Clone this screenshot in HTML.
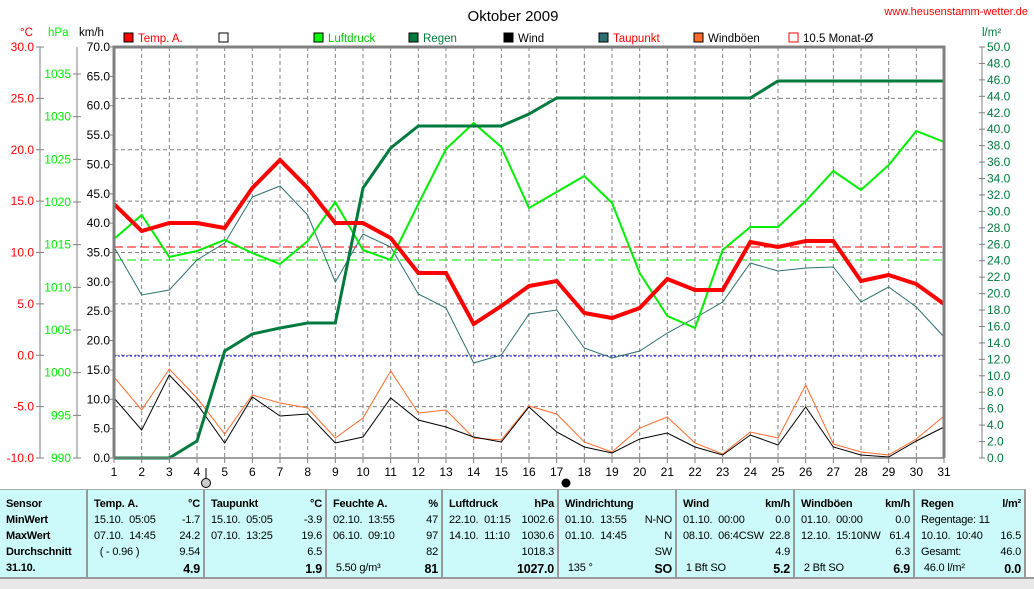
<!DOCTYPE html>
<html><head><meta charset="utf-8"><style>
body{margin:0;background:#fff;width:1034px;height:587px;overflow:hidden;font-family:"Liberation Sans",sans-serif}
svg{position:absolute;left:0;top:0}
#tbl{position:absolute;left:0;top:489px;width:1026px;height:87px;background:#ccfafa;border-top:1px solid #aaa}
.c{position:absolute;top:0;height:87px;border-right:2px solid #999;font-size:11px;letter-spacing:-0.2px}
.r{position:absolute;white-space:nowrap}
.b{font-weight:bold}
#strip{position:absolute;left:0;top:577px;width:1034px;height:10px;background:#e8e8e8;border-top:2px solid #999}
</style></head><body>
<svg id="s" width="1034" height="489" xmlns="http://www.w3.org/2000/svg" font-family="Liberation Sans, sans-serif" font-size="12"></svg>
<div id="tbl"></div>
<div id="strip"></div>
<script>
var s=document.getElementById('s'),h='';
function X(d){return 114+(d-1)*27.667}
for(var d=2;d<=31;d++)h+='<line x1="'+X(d)+'" y1="47" x2="'+X(d)+'" y2="458" stroke="#808080" stroke-dasharray="4,3"/>';
for(var t=25;t>-10;t-=5){var y=458-(t+10)*10.275;h+='<line x1="114" y1="'+y+'" x2="944" y2="'+y+'" stroke="#808080" stroke-dasharray="4,3"/>';}
h+='<line x1="114" y1="247" x2="944" y2="247" stroke="#f00" stroke-dasharray="9,4"/>';
h+='<line x1="114" y1="260" x2="944" y2="260" stroke="#00e000" stroke-dasharray="9,4"/>';
h+='<line x1="114" y1="356" x2="944" y2="356" stroke="#00f" stroke-dasharray="2,2"/>';
function pl(a,c,w){var p=[];for(var i=0;i<a.length;i++)if(a[i]!=null)p.push(X(i+1).toFixed(1)+','+a[i]);h+='<polyline points="'+p.join(' ')+'" fill="none" stroke="'+c+'" stroke-width="'+w+'"/>';}
pl([377,410,369,398,434,395,403,408,438,418,371,413,410,438,440,406,414,442,452,428,417,443,454,432,438,385,444,452,455,439,416],'#ff6a2a',1);
pl([398,430,375,404,443,397,416,414,443,437,398,420,427,437,442,407,432,447,453,439,433,447,455,435,445,407,447,455,457,441,427],'#000',1);
pl([247,295,290,260,243,197,186,215,282,234,247,294,308,363,355,314,310,348,358,351,333,318,302,263,271,268,267,302,287,307,337],'#2e7070',1);
pl([239,215,257,251,240,253,264,241,202,250,260,204,149,123,147,208,192,176,203,273,316,328,250,227,227,201,171,190,165,131,142],'#00ee00',2);
pl([458,458,458,441,351,334,328,323,323,188,148,126,126,126,126,114,98,98,98,98,98,98,98,98,81,81,81,81,81,81,81],'#007a3d',3);
pl([204,231,223,223,228,188,160,188,223,223,238,273,273,324,306,286,281,313,318,308,279,290,290,242,247,241,241,281,275,284,304],'#f00',4);
h+='<polyline points="114,458 114,47 944,47 944,458" fill="none" stroke="#808080" stroke-width="3"/>';
h+='<line x1="114" y1="458" x2="944" y2="458" stroke="#808080" stroke-width="1.5"/>';
h+='<line x1="40" y1="47" x2="40" y2="458" stroke="#808080"/><line x1="77" y1="47" x2="77" y2="458" stroke="#808080"/><line x1="982" y1="47" x2="982" y2="458" stroke="#808080"/>';
for(var t=30;t>=-10;t-=5){var y=458-(t+10)*10.275;h+='<line x1="36" y1="'+y+'" x2="44" y2="'+y+'" stroke="#808080"/><text x="34" y="'+(y+4)+'" fill="#f00" text-anchor="end">'+t.toFixed(1)+'</text>';}
for(var p=990;p<=1035;p+=5){var y=458-(p-990)*8.533;h+='<line x1="73" y1="'+y+'" x2="81" y2="'+y+'" stroke="#808080"/><text x="71" y="'+(y+4)+'" fill="#00ee00" text-anchor="end">'+p+'</text>';}
for(var k=0;k<=70;k+=5){var y=458-k*5.871;h+='<line x1="110" y1="'+y+'" x2="114" y2="'+y+'" stroke="#808080"/><text x="110" y="'+(y+4)+'" fill="#000" text-anchor="end">'+k.toFixed(1)+'</text>';}
for(var r=0;r<=50;r+=2){var y=458-r*8.22;h+='<line x1="979" y1="'+y+'" x2="985" y2="'+y+'" stroke="#808080"/><text x="987" y="'+(y+4)+'" fill="#007a3d">'+r.toFixed(1)+'</text>';}
for(var d=1;d<=31;d++){h+='<line x1="'+X(d)+'" y1="458" x2="'+X(d)+'" y2="463" stroke="#808080"/><text x="'+X(d)+'" y="476" text-anchor="middle">'+d+'</text>';}
h+='<text x="20" y="36" fill="#f00" font-size="11.5">°C</text><text x="48" y="36" fill="#00ee00" font-size="11.5">hPa</text><text x="79" y="36" font-size="11.5">km/h</text><text x="982" y="36" fill="#007a3d" font-size="11.5">l/m²</text>';
h+='<text x="513" y="21" text-anchor="middle" font-size="15">Oktober 2009</text><text x="1028" y="15" text-anchor="end" fill="#f00" font-size="11">www.heusenstamm-wetter.de</text>';
var L=[[124,'#f00','Temp. A.','#f00'],[219,'#fff','',''],[314,'#00ff00','Luftdruck','#00cc00'],[409,'#007a3d','Regen','#007a3d'],[504,'#000','Wind','#000'],[599,'#2e7070','Taupunkt','#f00'],[694,'#ff6a2a','Windböen','#000']];
L.forEach(function(l){h+='<rect x="'+l[0]+'" y="33" width="9" height="9" fill="'+l[1]+'" stroke="#000"/><text x="'+(l[0]+14)+'" y="42" fill="'+l[3]+'" font-size="11.5">'+l[2]+'</text>';});
h+='<rect x="789" y="33" width="9" height="9" fill="#fff" stroke="#f00"/><text x="803" y="42" fill="#000" font-size="11.5">10.5 Monat-Ø</text>';
h+='<line x1="206" y1="468" x2="206" y2="478" stroke="#000"/><circle cx="206" cy="483" r="4.5" fill="#ccc" stroke="#000"/><circle cx="566" cy="483" r="4.5" fill="#000"/>';
s.innerHTML=h;
var cols=[[0,88,['b:Sensor','b:MinWert','b:MaxWert','b:Durchschnitt','b:31.10.'],null],
[88,205,['b:Temp. A.','15.10.  05:05','07.10.  14:45','  ( - 0.96 )',''],['b:°C','-1.7','24.2','9.54','b:4.9']],
[205,327,['b:Taupunkt','15.10.  05:05','07.10.  13:25','',''],['b:°C','-3.9','19.6','6.5','b:1.9']],
[327,443,['b:Feuchte A.','02.10.  13:55','06.10.  09:10','',' 5.50 g/m³'],['b:%','47','97','82','b:81']],
[443,559,['b:Luftdruck','22.10.  01:15','14.10.  11:10','',''],['b:hPa','1002.6','1030.6','1018.3','b:1027.0']],
[559,677,['b:Windrichtung','01.10.  13:55','01.10.  14:45','',' 135 °'],['','N-NO','N','SW','b:SO']],
[677,795,['b:Wind','01.10.  00:00','08.10.  06:4CSW','',' 1 Bft SO'],['b:km/h','0.0','22.8','4.9','b:5.2']],
[795,915,['b:Windböen','01.10.  00:00','12.10.  15:10NW','',' 2 Bft SO'],['b:km/h','0.0','61.4','6.3','b:6.9']],
[915,1026,['b:Regen','Regentage: 11','10.10.  10:40','Gesamt:',' 46.0 l/m²'],['b:l/m²','','16.5','46.0','b:0.0']]];
var t='';
cols.forEach(function(c){t+='<div class="c" style="left:'+c[0]+'px;width:'+(c[1]-c[0]-2)+'px">';
for(var i=0;i<5;i++){var v=c[2][i],b=v.indexOf('b:')==0;if(b)v=v.slice(2);t+='<div class="r'+(b?' b':'')+'" style="left:6px;top:'+(8+i*16)+'px">'+v.replace(/ /g,'&nbsp;')+'</div>';
if(c[3]){var w=c[3][i],bb=w.indexOf('b:')==0;if(bb)w=w.slice(2);t+='<div class="r'+(bb?' b':'')+'" style="right:3px;top:'+(8+i*16)+'px;'+(i==4?'font-size:12.5px':'')+'">'+w+'</div>';}}
t+='</div>';});
document.getElementById('tbl').innerHTML=t;
</script>
</body></html>
